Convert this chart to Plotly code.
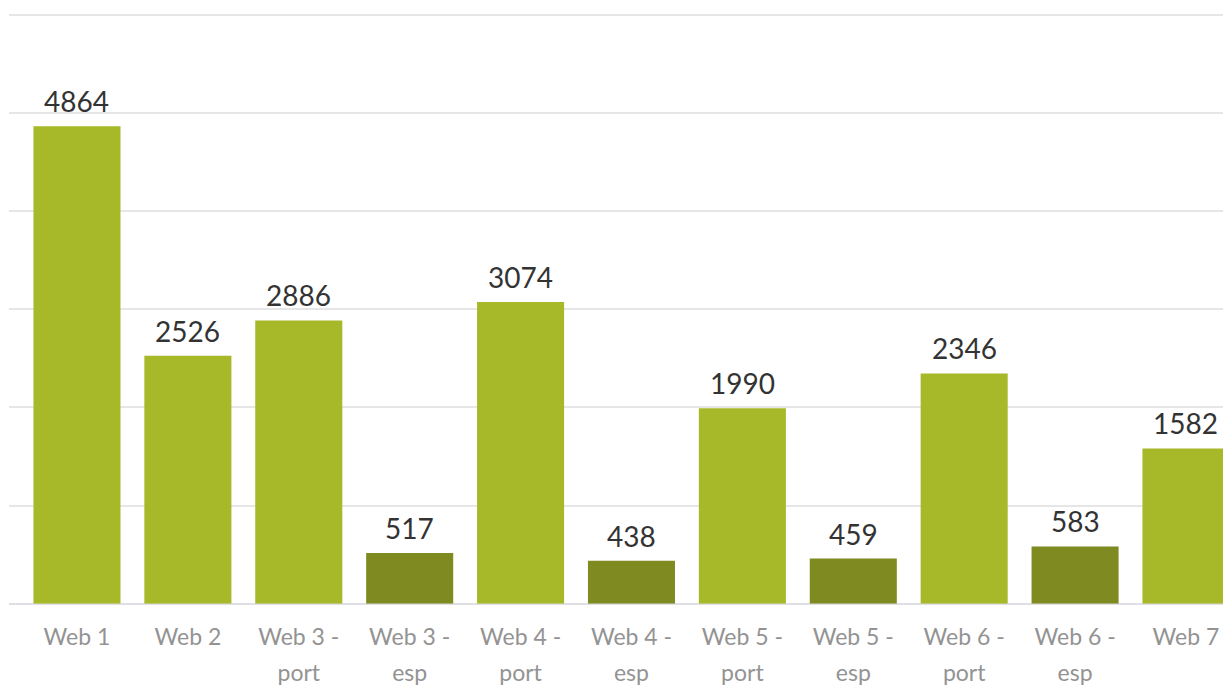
import plotly.graph_objects as go

categories = ["Web 1", "Web 2", "Web 3 - port", "Web 3 - esp", "Web 4 - port", "Web 4 - esp",
              "Web 5 - port", "Web 5 - esp", "Web 6 - port", "Web 6 - esp", "Web 7"]
visits = [4864, 2526, 2886, 517, 3074, 438, 1990, 459, 2346, 583, 1582]
label_line1 = ["Web 1", "Web 2", "Web 3 -", "Web 3 -", "Web 4 -", "Web 4 -",
               "Web 5 -", "Web 5 -", "Web 6 -", "Web 6 -", "Web 7"]
label_line2 = ["", "", "port", "esp", "port", "esp", "port", "esp", "port", "esp", ""]

LIGHT = "#a7b828"
DARK = "#7f8a20"
colors = [DARK if c.endswith("esp") else LIGHT for c in categories]
idx = list(range(len(categories)))

FONT = "Lato"
xr = [-0.613, 10.406]
tickfont = dict(family=FONT, size=23, color="#939393")

fig = go.Figure()
fig.add_trace(go.Bar(x=idx, y=visits, marker=dict(color=colors, line=dict(width=0)),
                     hoverinfo="y", showlegend=False))
# invisible helper trace so that the second (label-line) axis is drawn
fig.add_trace(go.Scatter(x=idx, y=visits, xaxis="x2", mode="markers",
                         marker=dict(opacity=0), hoverinfo="skip", showlegend=False))

for i, v in zip(idx, visits):
    fig.add_annotation(x=i, y=v, text=str(v), showarrow=False, yanchor="middle", yshift=25,
                       font=dict(family=FONT, size=28, color="#333333"))

fig.update_layout(
    width=1223, height=678,
    margin=dict(l=1, r=0, t=1, b=0),
    plot_bgcolor="white", paper_bgcolor="white",
    bargap=0.215,
    xaxis=dict(range=xr, tickmode="array", tickvals=idx, ticktext=label_line1,
               tickfont=tickfont, ticklabelstandoff=17,
               showgrid=False, zeroline=False, showline=False, ticks=""),
    xaxis2=dict(range=xr, overlaying="x", anchor="free", position=0.054, side="bottom",
                tickmode="array", tickvals=idx, ticktext=label_line2,
                tickfont=tickfont, ticklabelstandoff=17,
                showgrid=False, zeroline=False, showline=False, ticks=""),
    yaxis=dict(domain=[0.1085, 1], range=[0, 6060], dtick=1000, showticklabels=False,
               gridcolor="#e6e6e6", gridwidth=1.5, zeroline=True, zerolinecolor="#dfe0e6",
               zerolinewidth=1.5),
)

fig.write_html("out.html")
